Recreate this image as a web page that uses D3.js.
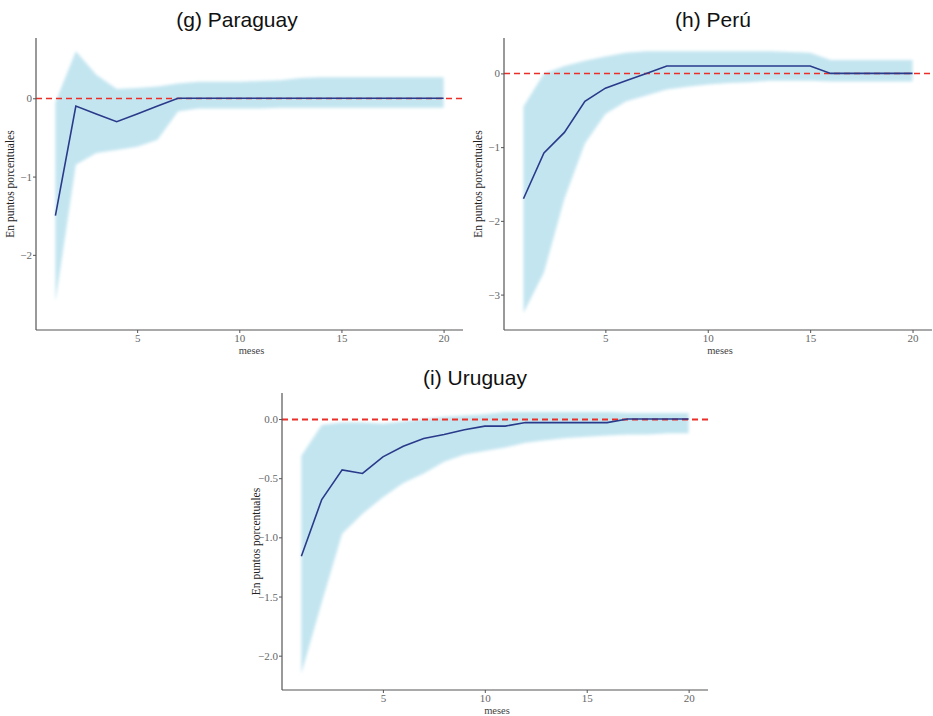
<!DOCTYPE html>
<html>
<head>
<meta charset="utf-8">
<script src="https://cdn.jsdelivr.net/npm/d3@7"></script>
<style>
  html, body { margin: 0; padding: 0; background: #fff; }
  svg { display: block; }
</style>
</head>
<body>
<svg id="chart" width="933" height="716"></svg>
<script>
// Impulse responses over a 20-month horizon, with confidence bands
const months = d3.range(1, 21);

// (g) Paraguay
const paraguayResponse = [-1.5, -0.1, -0.2, -0.3, -0.2, -0.1, 0, 0, 0, 0, 0, 0, 0, 0, 0, 0, 0, 0, 0, 0];
const paraguayUpper = [-0.05, 0.6, 0.3, 0.12, 0.13, 0.15, 0.19, 0.21, 0.21, 0.21, 0.22, 0.23, 0.26, 0.27, 0.27, 0.27, 0.27, 0.27, 0.27, 0.27];
const paraguayLower = [-2.6, -0.85, -0.7, -0.66, -0.62, -0.53, -0.17, -0.13, -0.13, -0.13, -0.13, -0.12, -0.12, -0.12, -0.12, -0.12, -0.12, -0.12, -0.12, -0.12];
const paraguayTicksY = [0, -1, -2];

// (h) Perú
const peruResponse = [-1.7, -1.08, -0.8, -0.38, -0.2, -0.1, 0, 0.1, 0.1, 0.1, 0.1, 0.1, 0.1, 0.1, 0.1, 0, 0, 0, 0, 0];
const peruUpper = [-0.45, 0.0, 0.1, 0.17, 0.23, 0.28, 0.3, 0.3, 0.3, 0.3, 0.3, 0.3, 0.3, 0.29, 0.28, 0.18, 0.18, 0.18, 0.18, 0.18];
const peruLower = [-3.25, -2.7, -1.7, -0.95, -0.55, -0.38, -0.3, -0.22, -0.18, -0.15, -0.13, -0.12, -0.1, -0.1, -0.1, -0.11, -0.11, -0.11, -0.11, -0.11];
const peruTicksY = [0, -1, -2, -3];

// (i) Uruguay
const uruguayResponse = [-1.16, -0.68, -0.43, -0.46, -0.32, -0.23, -0.165, -0.13, -0.09, -0.06, -0.06, -0.03, -0.03, -0.03, -0.03, -0.03, 0, 0, 0, 0];
const uruguayUpper = [-0.31, -0.05, -0.03, -0.03, -0.04, -0.02, 0.0, 0.02, 0.03, 0.04, 0.06, 0.06, 0.06, 0.06, 0.06, 0.06, 0.05, 0.05, 0.05, 0.05];
const uruguayLower = [-2.15, -1.55, -0.97, -0.8, -0.66, -0.54, -0.46, -0.36, -0.3, -0.27, -0.24, -0.2, -0.18, -0.16, -0.15, -0.14, -0.13, -0.13, -0.12, -0.12];
const uruguayTicksY = [0, -0.5, -1, -1.5, -2];

const ticksX = [5, 10, 15, 20];

const panels = [
  { title: "(g) Paraguay", response: paraguayResponse, upper: paraguayUpper, lower: paraguayLower,
    ticksY: paraguayTicksY, fmt: d3.format("d"),
    yDomain: [-2.96, 0.77], left: 36, right: 463, top: 38, bottom: 330, titleX: 237, titleY: 27, dash: 1.5 },
  { title: "(h) Perú", response: peruResponse, upper: peruUpper, lower: peruLower,
    ticksY: peruTicksY, fmt: d3.format("d"),
    yDomain: [-3.48, 0.48], left: 504, right: 932, top: 38, bottom: 330, titleX: 713, titleY: 27, dash: 1.5 },
  { title: "(i) Uruguay", response: uruguayResponse, upper: uruguayUpper, lower: uruguayLower,
    ticksY: uruguayTicksY, fmt: d3.format(".1f"),
    yDomain: [-2.29, 0.22], left: 282, right: 708, top: 393, bottom: 690, titleX: 475, titleY: 385, dash: 2 }
];

const svg = d3.select("#chart");

const defs = svg.append("defs");
defs.append("filter").attr("id", "soft")
  .attr("x", "-5%").attr("y", "-5%").attr("width", "110%").attr("height", "110%")
  .append("feGaussianBlur").attr("stdDeviation", 1.6);

const axisColor = "#555";
const serif = "'Liberation Serif', 'DejaVu Serif', serif";

panels.forEach(p => {
  const x = d3.scaleLinear().domain([0.05, 20.95]).range([p.left, p.right]);
  const y = d3.scaleLinear().domain(p.yDomain).range([p.bottom, p.top]);
  const g = svg.append("g");

  const rows = months.map((m, i) => ({ m, v: p.response[i], lo: p.lower[i], hi: p.upper[i] }));

  // confidence band
  g.append("path")
    .datum(rows)
    .attr("d", d3.area().x(d => x(d.m)).y0(d => y(d.lo)).y1(d => y(d.hi)))
    .attr("fill", "#c3e5f0")
    .attr("filter", "url(#soft)");

  // zero reference
  g.append("line")
    .attr("x1", p.left).attr("x2", p.right)
    .attr("y1", Math.round(y(0)) + 0.5).attr("y2", Math.round(y(0)) + 0.5)
    .attr("stroke", "#ea2f28").attr("stroke-width", p.dash)
    .attr("stroke-dasharray", "6,4");

  // response path
  g.append("path")
    .datum(rows)
    .attr("d", d3.line().x(d => x(d.m)).y(d => y(d.v)))
    .attr("fill", "none")
    .attr("stroke", "#2a3a8a")
    .attr("stroke-width", 1.6);

  // axes
  const xAxis = g.append("g")
    .attr("transform", `translate(0,${p.bottom})`)
    .call(d3.axisBottom(x).tickValues(ticksX).tickSize(3).tickPadding(1).tickFormat(d3.format("d")));
  const yAxis = g.append("g")
    .attr("transform", `translate(${p.left},0)`)
    .call(d3.axisLeft(y).tickValues(p.ticksY).tickSize(3).tickPadding(1)
      .tickFormat(d => p.fmt(d).replace("-", "\u2212")));

  [xAxis, yAxis].forEach(a => {
    a.select(".domain").attr("stroke", axisColor).attr("stroke-width", 1.2);
    a.selectAll(".tick line").attr("stroke", axisColor);
    a.selectAll(".tick text").attr("fill", "#666").attr("font-family", serif).attr("font-size", 11);
  });
  // straight axis lines without end caps
  xAxis.select(".domain").attr("d", `M${p.left},0H${p.right}`);
  yAxis.select(".domain").attr("d", `M0,${p.top}V${p.bottom}`);

  // axis titles
  g.append("text")
    .attr("x", (x(1) + x(20)) / 2 + 2).attr("y", p.bottom + 24)
    .attr("text-anchor", "middle")
    .attr("font-family", serif).attr("font-size", 10.5).attr("fill", "#444")
    .text("meses");
  g.append("text")
    .attr("transform", `translate(${p.left - 22},${(p.top + p.bottom) / 2}) rotate(-90)`)
    .attr("text-anchor", "middle")
    .attr("font-family", serif).attr("font-size", 11.5).attr("fill", "#222")
    .text("En puntos porcentuales");

  // panel title
  g.append("text")
    .attr("x", p.titleX).attr("y", p.titleY)
    .attr("text-anchor", "middle")
    .attr("font-family", "'Liberation Sans', Arial, sans-serif")
    .attr("font-size", 21).attr("fill", "#111")
    .text(p.title);
});
</script>
</body>
</html>
